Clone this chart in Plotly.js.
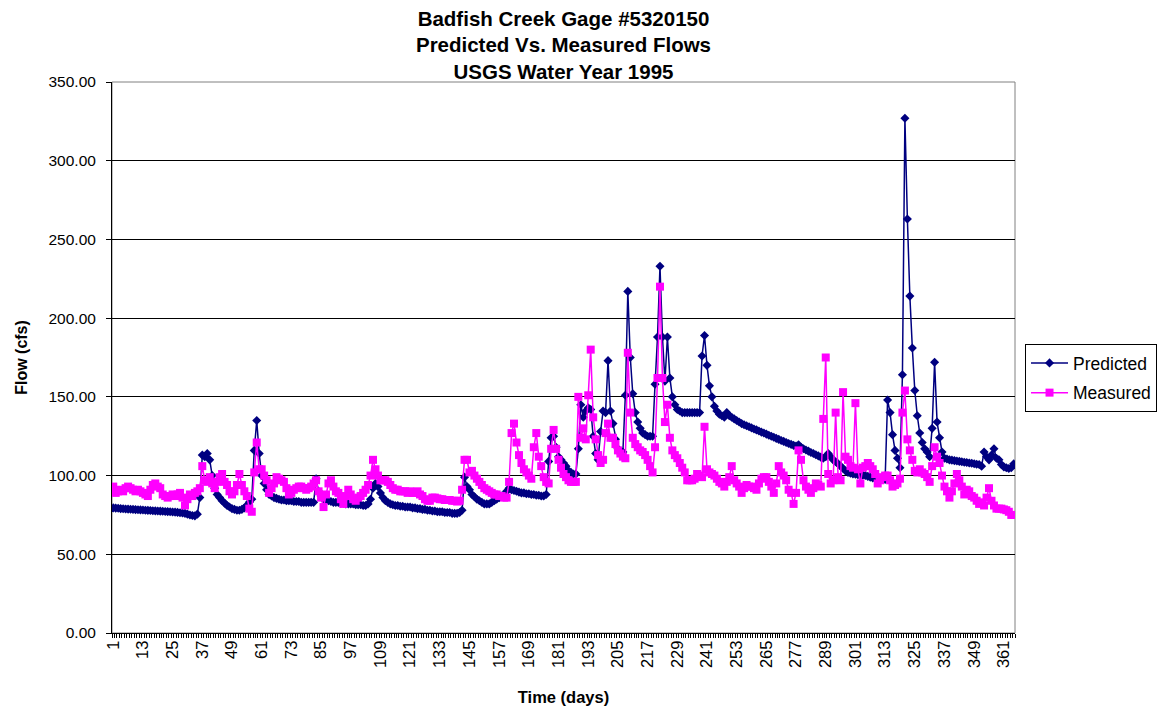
<!DOCTYPE html>
<html>
<head>
<meta charset="utf-8">
<script src="https://cdn.plot.ly/plotly-3.0.1.min.js"></script>
<style>
html,body{margin:0;padding:0;background:#fff;}
#chart{width:1157px;height:713px;}
</style>
</head>
<body>
<div id="chart"></div>
<script>
// Predicted daily flow (cfs), days 1..365
const predicted = [
 79.5,79.3,79.2,79.0,78.9,78.8,78.7,78.6,78.5,78.4,
 78.3,78.2,78.1,78.0,77.9,77.8,77.7,77.6,77.5,77.4,
 77.3,77.2,77.1,77.0,76.9,76.8,76.6,76.4,76.2,76.0,
 75.5,75.0,74.6,74.4,75.5,86,113,112,114,110,
 100,92,88,86,84,82.5,81,80,79,78.5,
 78,78,78.5,79.5,81,83,85,116,135,114,
 100,95,91,88,87,86,85.5,85,84.5,84.5,
 84,84,84,83.5,83.5,83.5,83,83,83,83,
 83,83,98,90,87,85,84,84,83.5,83,
 83,83,82.5,82.5,82,82,82,82,81.5,81.5,
 81.5,81,81,82,85,92,95,93,89,86,
 84,83,82,81.5,81,81,80.5,80.5,80,80,
 80,79.5,79.5,79,79,78.5,78.5,78,78,77.5,
 77.5,77,77,77,76.5,76.5,76.5,76,76,76,
 76.5,78,99,93,91,88,86.5,85,84,83,
 82,82,82,83,84,85,86,87,88,90,
 92,91,90.5,90,89.5,89,89,88.5,88.5,88,
 88,87.5,87.5,87,87,88,109,124,125,118,
 112,110,108,106,103,102,101,101,117,145,
 137,141,143,142,125,114,110,128,141,140,
 173,141,133,123,117,114,115,151,217,175,
 152,140,134,130,127,126,125,125,125,158,
 188,233,188,160,188,162,150,145,142,141,
 140,140,140,140,140,140,140,140,176,189,
 170,157,150,144,141,139,138,137,140,138,
 137,136,135,134,133,132.3,131.6,131,130.3,129.6,
 129,128.3,127.6,127,126.3,125.6,125,124.3,123.6,123,
 122.3,121.7,121,120.4,119.8,119.2,118.7,119.5,118,117,
 116.2,115.5,114.7,114,113.2,112.5,111.7,111,112,114,
 112,110,108.8,107.5,106,104.5,103,102,101.5,101,
 100.8,100.6,100.4,100.2,100,99.5,99,98.5,98.2,98,
 97.8,97.5,97.5,148,140,126,116,111,105,164,
 327,263,214,181,154,138,127,121,117,115,
 112,130,172,134,124,115,111,110.5,110,109.8,
 109.5,109.3,109,108.8,108.5,108.3,108,107.8,107.5,107.2,
 107,106,115,112,110,113,117,111,110,107,
 105.5,105,104.5,105,107.5
];

// Measured daily flow (cfs), days 1..365
const measured = [
 93,89,90,91,90,92,93,92,91,90,
 91,90,89,88,87,91,94,95,93,92,
 88,87,86,87,88,87,88,89,86,81,
 85,88,87,89,90,92,106,97,96,99,
 95,92,96,99,101,96,94,90,88,90,
 94,101,94,90,87,79,77,102,121,104,
 104,100,97,89,92,95,99,98,97,96,
 92,88,89,91,92,93,93,92,91,92,
 93,95,97,90,86,80,88,95,97,93,
 90,89,85,82,87,91,88,85,84,86,
 87,89,91,94,100,110,104,100,97,97,
 97,96,94,92,91,91,90,90,90,89,
 90,89,89,90,88,87,85,84,84,86,
 86,85.5,85,85,84.5,84.5,84.5,84,84,83.5,
 84,91,110,110,102,103,100,98,96,94,
 92,91,90,89,88,88,87,87,86,86,
 96,127,133,121,113,108,104,102,100,98,
 118,127,112,106,99,96,95,117,129,117,
 110,105,101,99,97,96,96,96,150,124,
 130,123,151,180,137,123,113,108,110,127,
 133,124,124,120,116,114,112,111,178,140,
 124,120,118,116,115,113,110,106,102,118,
 162,220,162,134,145,124,116,113,111,108,
 105,102,97,97,97,98,101,100,99,131,
 104,102,101,100,98,96,95,93,96,99,
 106,97,95,93,89,92,94,93,93,92,
 91,95,98,99,99,96,93,89,95,106,
 102,100,97,91,89,82,89,116,110,97,
 93,91,89,92,95,94,93,136,175,101,
 95,97,140,99,97,153,112,110,106,105,
 146,104,95,105,106,108,106,104,101,95,
 97,99,100,100,97,93,94,95,98,140,
 154,123,116,110,103,102,104,102,101,99,
 96,106,118,112,108,100,93,90,86,90,
 95,101,97,93,88,91,90,87,86,84,
 82,83,81,86,92,84,81,79,79,79,
 78.5,78,77,75,75
];

// Category tick labels shown on the time axis
const tickLabels = [1,13,25,37,49,61,73,85,97,109,121,133,145,157,169,181,193,205,217,229,241,253,265,277,289,301,313,325,337,349,361];

if (predicted.length !== 365 || measured.length !== 365) {
  throw new Error('lengths: ' + predicted.length + ' / ' + measured.length);
}
const days = predicted.map((_, i) => i + 1);

const FONT = 'Liberation Sans, Arial, Helvetica, sans-serif';

const traces = [
  {
    x: days, y: predicted, name: 'Predicted', type: 'scatter', mode: 'lines+markers',
    legendgroup: 'p',
    line: {color: '#000080', width: 1.5},
    marker: {symbol: 'diamond', size: 7, color: '#000080'}
  },
  {
    x: days, y: measured, name: 'Measured', type: 'scatter', mode: 'lines+markers',
    legendgroup: 'm',
    line: {color: '#ff00ff', width: 1.5},
    marker: {symbol: 'square', size: 8, color: '#ff00ff'}
  }
];

const layout = {
  width: 1157, height: 713,
  margin: {l: 112, r: 142, t: 82, b: 80, pad: 0, autoexpand: false},
  paper_bgcolor: '#fff', plot_bgcolor: '#fff',
  font: {family: FONT, color: '#000', size: 15},
  title: {
    text: '<b>Badfish Creek Gage #5320150<br>Predicted Vs. Measured Flows<br>USGS Water Year 1995</b>',
    font: {family: FONT, size: 20.5, color: '#000'},
    x: 0.5, xref: 'paper', xanchor: 'center',
    y: 0.964, yref: 'container', yanchor: 'top'
  },
  xaxis: {
    range: [0.5, 365.5],
    tickmode: 'array',
    tickvals: tickLabels,
    ticktext: tickLabels.map(String),
    tickangle: -90,
    ticks: '',
    showline: true, linecolor: '#000', linewidth: 1,
    showgrid: false, zeroline: false,
    tickfont: {family: FONT, size: 16.5, color: '#000'},
    minor: {tickmode: 'linear', tick0: 0.5, dtick: 1, ticks: 'outside', ticklen: 4, tickcolor: '#000', tickwidth: 1, showgrid: false},
    title: {text: '<b>Time (days)</b>', font: {family: FONT, size: 16.5, color: '#000'}, standoff: 24}
  },
  yaxis: {
    range: [0, 350],
    tickmode: 'linear', tick0: 0, dtick: 50,
    tickformat: '.2f',
    ticks: 'outside', ticklen: 5, tickcolor: '#000',
    ticklabelstandoff: 7,
    showline: true, linecolor: '#000', linewidth: 1,
    showgrid: true, gridcolor: '#000', gridwidth: 1,
    zeroline: false,
    tickfont: {family: FONT, size: 15.5, color: '#000'},
    title: {text: '<b>Flow (cfs)</b>', font: {family: FONT, size: 16, color: '#000'}, standoff: 16}
  },
  legend: {
    x: 1.0111, xanchor: 'left', y: 0.5245, yanchor: 'top',
    bgcolor: '#fff', bordercolor: '#000', borderwidth: 1,
    font: {family: FONT, size: 17.5, color: '#000'},
    itemwidth: 37,
    tracegroupgap: 4
  },
  shapes: [
    {type: 'rect', xref: 'paper', yref: 'paper', x0: 0, y0: 0, x1: 1, y1: 1,
     line: {color: '#808080', width: 1}, layer: 'below'}
  ]
};

Plotly.newPlot('chart', traces, layout, {displayModeBar: false, staticPlot: true});
</script>
</body>
</html>
